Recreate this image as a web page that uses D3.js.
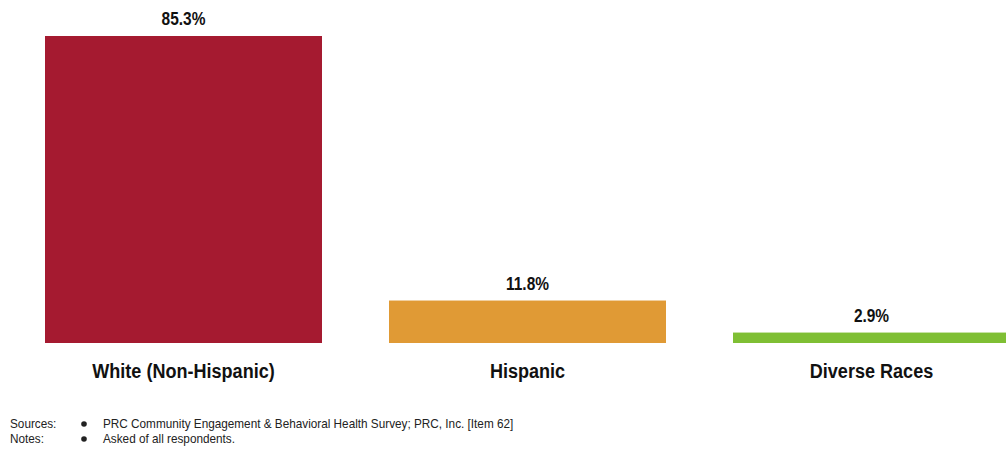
<!DOCTYPE html>
<html>
<head>
<meta charset="utf-8">
<script src="https://cdn.jsdelivr.net/npm/d3@7"></script>
<style>
  html, body { margin: 0; padding: 0; background: #fff; }
  svg { display: block; font-family: "Liberation Sans Narrow", "Arial Narrow", "Liberation Sans", Arial, sans-serif; }
</style>
</head>
<body>
<svg id="chart" width="1006" height="449"></svg>
<script>
const categories = ["White (Non-Hispanic)", "Hispanic", "Diverse Races"];
const values = [85.3, 11.8, 2.9];
const valueLabels = ["85.3%", "11.8%", "2.9%"];
const colors = ["#A51A30", "#E09A35", "#7FBF34"];
const footLabels = ["Sources:", "Notes:"];
const footTexts = ["PRC Community Engagement & Behavioral Health Survey; PRC, Inc. [Item 62]", "Asked of all respondents."];

const svg = d3.select("#chart");
const baseline = 343;
const narrow = 0.86;

const x = d3.scaleBand()
  .domain(categories)
  .range([45, 1010])
  .paddingInner(0.1948)
  .paddingOuter(0);

const y = d3.scaleLinear()
  .domain([0, 85.3])
  .range([baseline, 36]);

const g = svg.append("g");

g.selectAll("rect.bar")
  .data(categories)
  .enter().append("rect")
  .attr("class", "bar")
  .attr("x", d => x(d))
  .attr("width", x.bandwidth())
  .attr("y", (d, i) => y(values[i]))
  .attr("height", (d, i) => baseline - y(values[i]))
  .attr("fill", (d, i) => colors[i]);

g.selectAll("text.val")
  .data(categories)
  .enter().append("text")
  .attr("class", "val")
  .attr("transform", (d, i) => `translate(${x(d) + x.bandwidth() / 2},${y(values[i]) - 11}) scale(${narrow},1)`)
  .attr("text-anchor", "middle")
  .attr("font-size", "18px")
  .attr("font-weight", "bold")
  .attr("fill", "#111")
  .text((d, i) => valueLabels[i]);

const xAxis = d3.axisBottom(x).tickSize(0).tickPadding(0);
const ax = svg.append("g")
  .attr("transform", `translate(0,${baseline})`)
  .call(xAxis);
ax.select(".domain").remove();
ax.selectAll("text")
  .attr("dy", null)
  .attr("y", 0)
  .attr("transform", `translate(0,35) scale(${narrow},1)`)
  .attr("font-size", "21px")
  .attr("font-weight", "bold")
  .attr("fill", "#111")
  .style("font-family", "\"Liberation Sans Narrow\", \"Arial Narrow\", \"Liberation Sans\", Arial, sans-serif");

const foot = svg.append("g").attr("font-size", "12px").attr("fill", "#222");
footLabels.forEach((lab, i) => {
  const yy = 428 + i * 15;
  foot.append("text").attr("transform", `translate(10,${yy}) scale(0.98,1)`).text(lab);
  foot.append("circle").attr("cx", 84).attr("cy", yy - 4).attr("r", 2.8).attr("fill", "#222");
  foot.append("text").attr("transform", `translate(103,${yy}) scale(0.98,1)`).text(footTexts[i]);
});
</script>
</body>
</html>
